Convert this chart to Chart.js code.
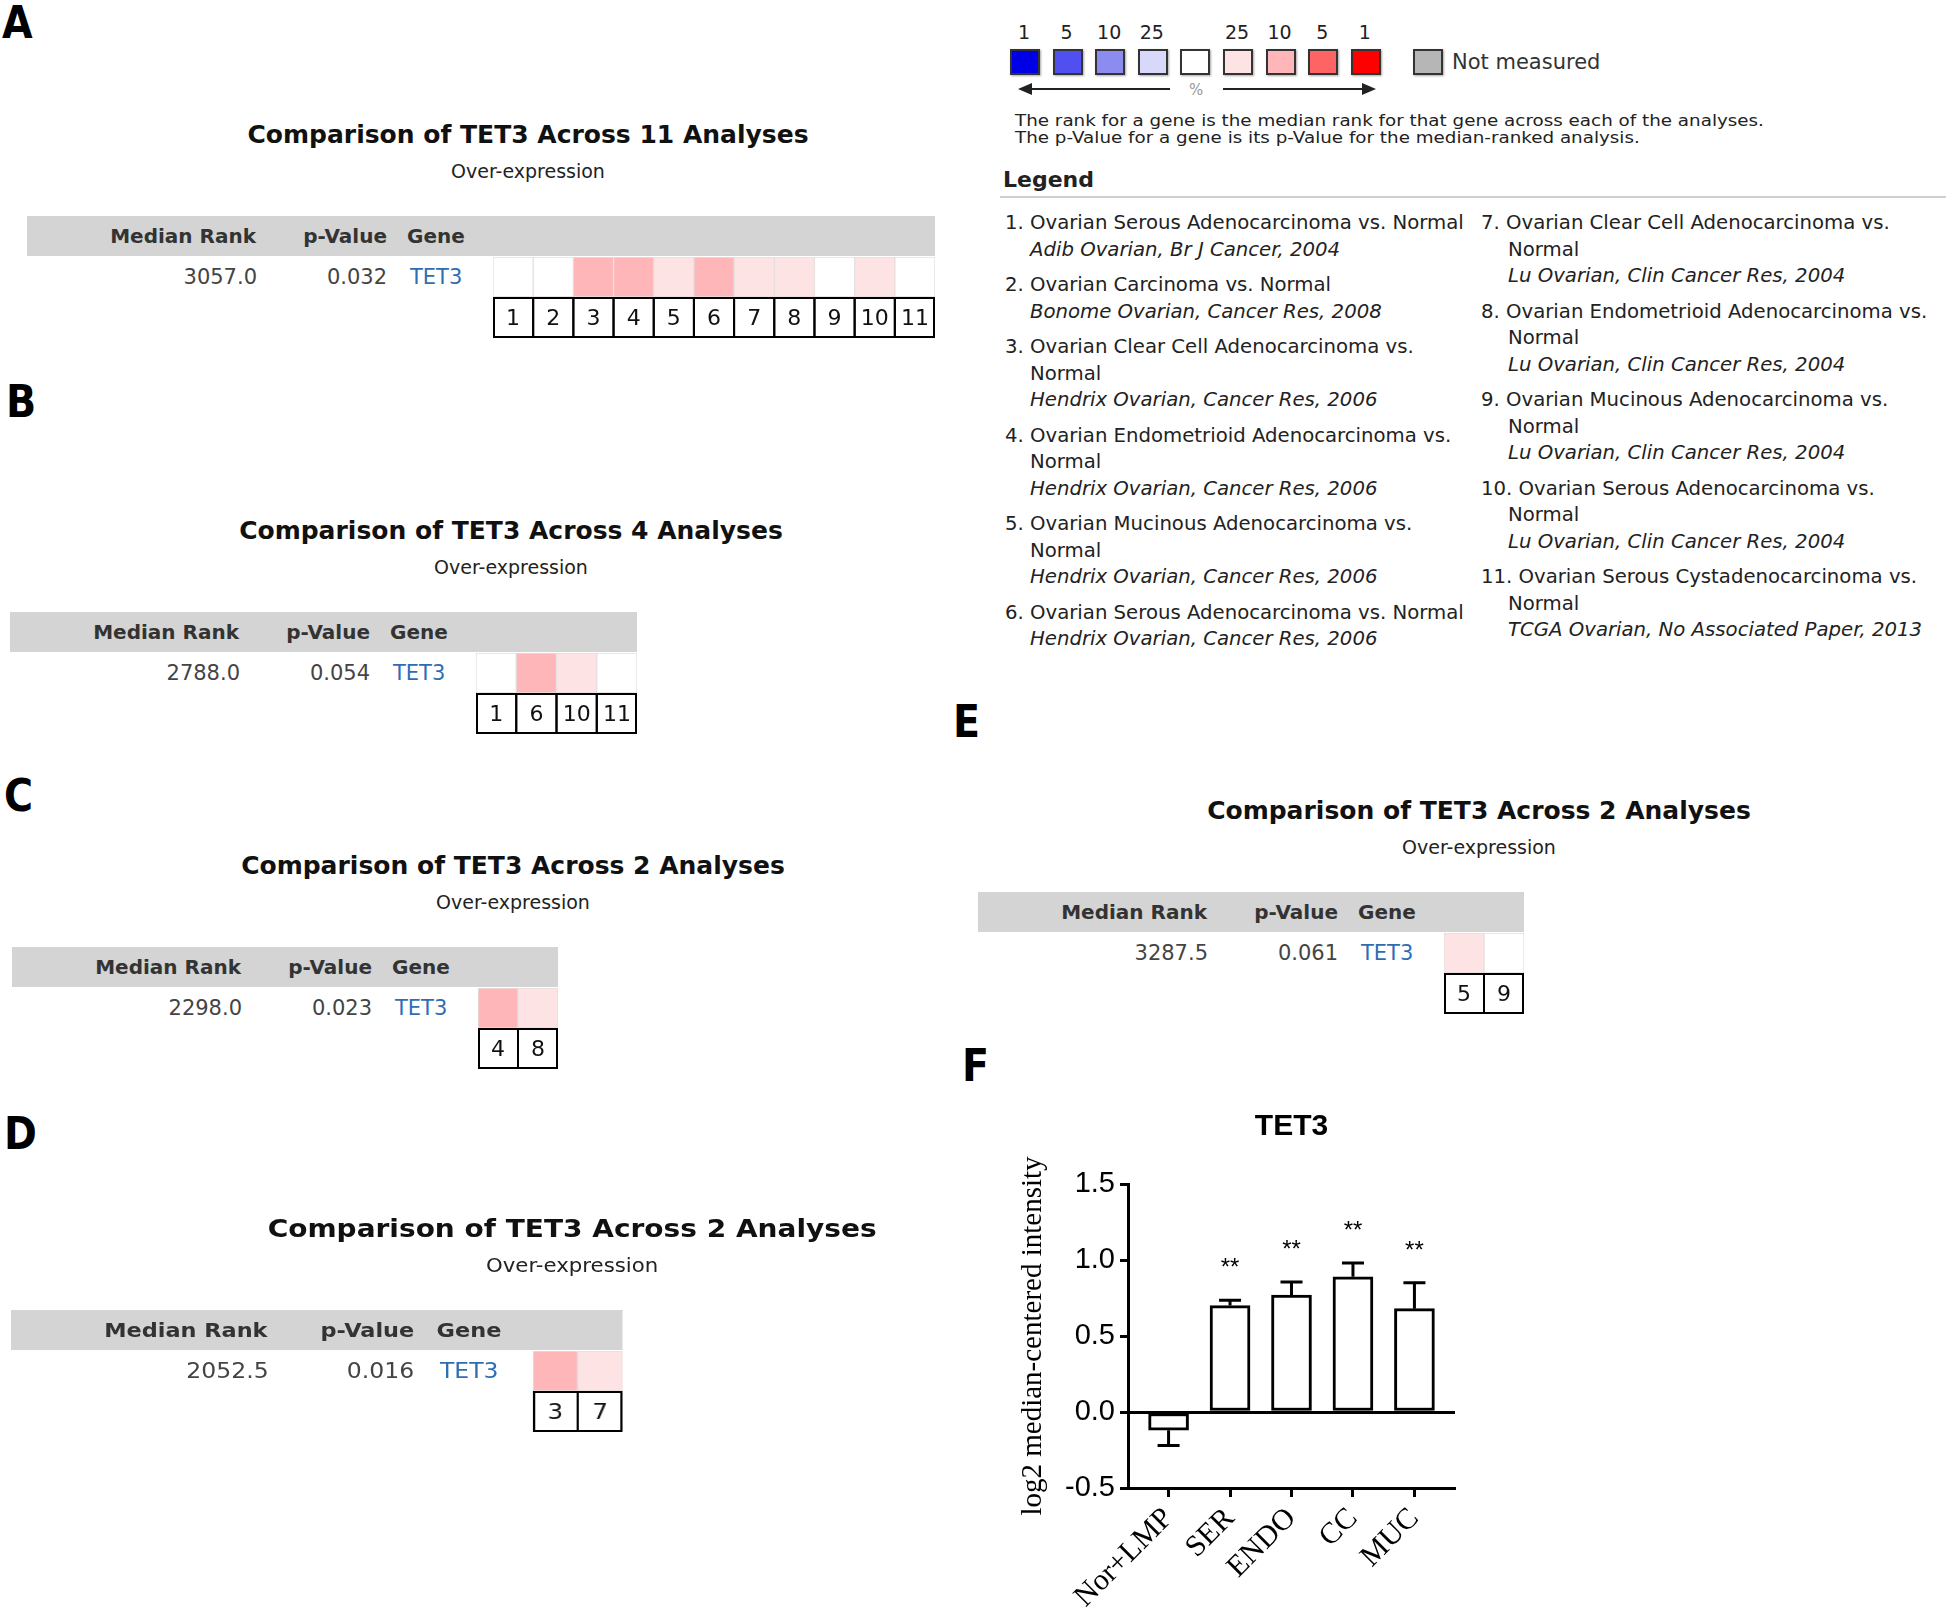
<!DOCTYPE html>
<html>
<head>
<meta charset="utf-8">
<script src="https://cdn.jsdelivr.net/npm/chart.js@4.4.1/dist/chart.umd.min.js"></script>
<style>
  html, body { margin: 0; padding: 0; background: #fff; }
  body { width: 1946px; height: 1610px; position: relative; overflow: hidden;
         font-family: "DejaVu Sans", Verdana, sans-serif; color: #222; }
  .letter { position: absolute; font: bold 45px "DejaVu Sans"; line-height: 0.9; color: #000;
            transform: scaleX(0.88); transform-origin: left top; }
  .panel { position: absolute; transform-origin: left top; }
  .ptitle { position: absolute; left: 0; width: 1002px; top: -96px; font: bold 25px "DejaVu Sans"; line-height: 30px;
            text-align: center; color: #111; white-space: nowrap; }
  .psub { position: absolute; left: 0; width: 1002px; top: -57px; font: 19px "DejaVu Sans"; line-height: 24px;
          text-align: center; color: #222; white-space: nowrap; }
  .band { position: absolute; left: 0; top: 0; height: 40px; background: #d4d4d4; }
  .hd { position: absolute; top: 0; font: bold 20px "DejaVu Sans"; line-height: 40px; color: #333; white-space: nowrap; }
  .dv { position: absolute; top: 41px; font: 21px "DejaVu Sans"; line-height: 40px; color: #444; white-space: nowrap; }
  .r { text-align: right; }
  .gene { color: #2f6db3; }
  .strip { position: absolute; left: 466px; top: 41px; }
  .keynum { position: absolute; top: 21px; width: 40px; text-align: center; font: 19px "DejaVu Sans"; color: #222; }
  .keysq { position: absolute; top: 49px; width: 26px; height: 22px; border: 2px solid #333;
           box-shadow: 1px 1px 2px rgba(0,0,0,0.35); }
  .note { position: absolute; left: 1015px; font: 15px "DejaVu Sans"; line-height: 15px; color: #222;
          transform: scaleX(1.22); transform-origin: left top; white-space: nowrap; }
  .lcol { position: absolute; top: 210px; }
  .item { line-height: 26.5px; margin-bottom: 9px; white-space: pre; font-size: 19.7px; color: #222; }
</style>
</head>
<body>
<canvas id="tetChart" width="480" height="520" style="position:absolute;left:1000px;top:1090px"></canvas>
<script>
// ---- panels A-E (Oncomine comparisons) ----
const panelLetters = ['A', 'B', 'C', 'D', 'E'];
const analysisTotals = [11, 4, 2, 2, 2];
const medianRanks = ['3057.0', '2788.0', '2298.0', '2052.5', '3287.5'];
const pValues = ['0.032', '0.054', '0.023', '0.016', '0.061'];
const geneName = 'TET3';
const analysisIds = [
  [1, 2, 3, 4, 5, 6, 7, 8, 9, 10, 11],
  [1, 6, 10, 11],
  [4, 8],
  [3, 7],
  [5, 9]
];
// top-% rank bucket for each cell, 0 = not significant
const rankPercentiles = [
  [0, 0, 10, 10, 25, 10, 25, 25, 0, 25, 0],
  [0, 10, 25, 0],
  [10, 25],
  [10, 25],
  [25, 0]
];

// ---- colour key ----
const keyLabels = ['1', '5', '10', '25', '', '25', '10', '5', '1'];
const keyColors = ['#0000e6', '#5050f0', '#8c8cf0', '#d8d8fa', '#ffffff', '#fde3e3', '#ffb6b8', '#ff6464', '#ff0000'];
const overColors = { 0: '#ffffff', 1: '#ff0000', 5: '#ff6464', 10: '#ffb6b8', 25: '#fde3e3' };

// ---- legend ----
const legendTitles = [
  'Ovarian Serous Adenocarcinoma vs. Normal',
  'Ovarian Carcinoma vs. Normal',
  'Ovarian Clear Cell Adenocarcinoma vs.\nNormal',
  'Ovarian Endometrioid Adenocarcinoma vs.\nNormal',
  'Ovarian Mucinous Adenocarcinoma vs.\nNormal',
  'Ovarian Serous Adenocarcinoma vs. Normal',
  'Ovarian Clear Cell Adenocarcinoma vs.\nNormal',
  'Ovarian Endometrioid Adenocarcinoma vs.\nNormal',
  'Ovarian Mucinous Adenocarcinoma vs.\nNormal',
  'Ovarian Serous Adenocarcinoma vs.\nNormal',
  'Ovarian Serous Cystadenocarcinoma vs.\nNormal'
];
const legendSources = [
  'Adib Ovarian, Br J Cancer, 2004',
  'Bonome Ovarian, Cancer Res, 2008',
  'Hendrix Ovarian, Cancer Res, 2006',
  'Hendrix Ovarian, Cancer Res, 2006',
  'Hendrix Ovarian, Cancer Res, 2006',
  'Hendrix Ovarian, Cancer Res, 2006',
  'Lu Ovarian, Clin Cancer Res, 2004',
  'Lu Ovarian, Clin Cancer Res, 2004',
  'Lu Ovarian, Clin Cancer Res, 2004',
  'Lu Ovarian, Clin Cancer Res, 2004',
  'TCGA Ovarian, No Associated Paper, 2013'
];

// ---- panel F bar chart ----
const groups = ['Nor+LMP', 'SER', 'ENDO', 'CC', 'MUC'];
const means = [-0.12, 0.70, 0.77, 0.89, 0.68];
const sems = [0.10, 0.035, 0.085, 0.09, 0.17];
const sigMarks = ['', '**', '**', '**', '**'];
const yTicks = [-0.5, 0.0, 0.5, 1.0, 1.5];
const chartTitle = 'TET3';

// layout of the page pieces
const panelBoxes = [
  { left: 27, top: 216, sx: 1 },
  { left: 10, top: 612, sx: 1 },
  { left: 12, top: 947, sx: 1 },
  { left: 11, top: 1310, sx: 1.12 },
  { left: 978, top: 892, sx: 1 }
];
const letterSpots = [[2, 3], [6, 382], [4, 776], [4, 1114], [953, 702], [962, 1046]];
const CELL = 40.2;

function el(tag, cls, parent, html) {
  const e = document.createElement(tag);
  if (cls) e.className = cls;
  if (html !== undefined) e.innerHTML = html;
  (parent || document.body).appendChild(e);
  return e;
}
function place(e, left, top) { e.style.left = left + 'px'; e.style.top = top + 'px'; return e; }

// number row under each heat strip, drawn from the category scale
const numberRow = {
  id: 'numberRow',
  afterDraw(chart) {
    const { ctx, chartArea, scales: { x } } = chart;
    const labels = chart.data.labels;
    const w = chartArea.width / labels.length;
    const top = chartArea.bottom + 1;
    ctx.save();
    ctx.strokeStyle = '#000';
    ctx.lineWidth = 2;
    ctx.fillStyle = '#111';
    ctx.font = '22px "DejaVu Sans"';
    ctx.textAlign = 'center';
    ctx.textBaseline = 'middle';
    labels.forEach((lab, i) => {
      const cx = x.getPixelForValue(i);
      const left = Math.max(cx - w / 2, 1);
      const right = Math.min(cx + w / 2, chartArea.right - 1);
      ctx.strokeRect(left, top, right - left, 39);
      ctx.fillText(lab, cx, top + 21);
    });
    ctx.restore();
  }
};

function drawStrip(canvas, ids, pcts) {
  new Chart(canvas, {
    type: 'bar',
    data: {
      labels: ids.map(String),
      datasets: [{
        data: ids.map(() => 1),
        backgroundColor: pcts.map(p => overColors[p]),
        borderColor: '#e6dede',
        borderWidth: 1,
        borderSkipped: false,
        barPercentage: 1,
        categoryPercentage: 1
      }]
    },
    options: {
      responsive: false,
      animation: false,
      events: [],
      layout: { padding: { bottom: 41 } },
      plugins: { legend: { display: false }, tooltip: { enabled: false } },
      scales: {
        x: { display: false },
        y: { display: false, min: 0, max: 1 }
      }
    },
    plugins: [numberRow]
  });
}

panelLetters.forEach((letter, p) => {
  const box = panelBoxes[p];
  const n = analysisTotals[p];
  const panel = place(el('div', 'panel'), box.left, box.top);
  panel.style.transform = 'scaleX(' + box.sx + ')';
  el('div', 'ptitle', panel, 'Comparison of ' + geneName + ' Across ' + n + ' Analyses');
  el('div', 'psub', panel, 'Over-expression');
  const band = el('div', 'band', panel);
  band.style.width = (466 + n * CELL) + 'px';
  const h1 = el('div', 'hd r', panel, 'Median Rank'); h1.style.left = '0px'; h1.style.width = '229px';
  const h2 = el('div', 'hd r', panel, 'p-Value'); h2.style.left = '0px'; h2.style.width = '360px';
  const h3 = el('div', 'hd', panel, 'Gene'); h3.style.left = '380px';
  const d1 = el('div', 'dv r', panel, medianRanks[p]); d1.style.left = '0px'; d1.style.width = '230px';
  const d2 = el('div', 'dv r', panel, pValues[p]); d2.style.left = '0px'; d2.style.width = '360px';
  const d3 = el('div', 'dv gene', panel, geneName); d3.style.left = '383px';
  const cv = el('canvas', 'strip', panel);
  cv.width = Math.round(n * CELL);
  cv.height = 81;
  drawStrip(cv, analysisIds[p], rankPercentiles[p]);
});

['A', 'B', 'C', 'D', 'E', 'F'].forEach((l, i) => {
  place(el('div', 'letter', null, l), letterSpots[i][0], letterSpots[i][1]);
});

// colour key
keyColors.forEach((c, i) => {
  const left = 1010 + i * 42.6;
  const sq = place(el('div', 'keysq'), left, 49);
  sq.style.background = c;
  if (keyLabels[i]) place(el('div', 'keynum', null, keyLabels[i]), left - 6, 21);
});
const grey = place(el('div', 'keysq'), 1413, 49);
grey.style.background = '#b6b6b6';
const nm = place(el('div', null, null, 'Not measured'), 1452, 48);
nm.style.cssText += 'position:absolute;font:21px "DejaVu Sans";color:#333;white-space:nowrap;line-height:28px;';
// arrows
const la = place(el('div'), 1030, 88); la.style.cssText += 'position:absolute;width:140px;height:2px;background:#222;';
const lh = place(el('div'), 1018, 83); lh.style.cssText += 'position:absolute;width:0;height:0;border-top:6px solid transparent;border-bottom:6px solid transparent;border-right:14px solid #222;';
const ra = place(el('div'), 1223, 88); ra.style.cssText += 'position:absolute;width:140px;height:2px;background:#222;';
const rh = place(el('div'), 1362, 83); rh.style.cssText += 'position:absolute;width:0;height:0;border-top:6px solid transparent;border-bottom:6px solid transparent;border-left:14px solid #222;';
const pct = place(el('div', null, null, '%'), 1189, 81); pct.style.cssText += 'position:absolute;font:15px "DejaVu Sans";color:#999;';

place(el('div', 'note', null, 'The rank for a gene is the median rank for that gene across each of the analyses.'), 1015, 114);
place(el('div', 'note', null, 'The p-Value for a gene is its p-Value for the median-ranked analysis.'), 1015, 131);

// legend
const lg = place(el('div', null, null, 'Legend'), 1003, 166);
lg.style.cssText += 'position:absolute;font:bold 22px "DejaVu Sans";color:#222;line-height:28px;';
const rule = place(el('div'), 1000, 196);
rule.style.cssText += 'position:absolute;width:946px;height:2px;background:#cfcfcf;';

const col1 = place(el('div', 'lcol'), 1005, 210);
const col2 = place(el('div', 'lcol'), 1481, 210);
legendTitles.forEach((t, i) => {
  const col = i < 6 ? col1 : col2;
  const hang = i < 6 ? 25 : 27;
  const it = el('div', 'item', col);
  it.style.paddingLeft = hang + 'px';
  it.style.textIndent = (-hang) + 'px';
  it.textContent = (i + 1) + '. ' + t + '\n';
  const src = el('i', null, it);
  src.textContent = legendSources[i];
});

// ---- panel F ----
const errorBars = {
  id: 'errorBars',
  afterDatasetsDraw(chart) {
    const { ctx, chartArea, scales: { x, y } } = chart;
    ctx.save();
    ctx.fillStyle = '#000';
    ctx.font = 'bold 30px "Liberation Sans"';
    ctx.textAlign = 'center';
    ctx.textBaseline = 'middle';
    ctx.fillText(chartTitle, (chartArea.left + chartArea.right) / 2, 37);

    ctx.strokeStyle = '#000';
    ctx.lineWidth = 3;
    ctx.font = '24px "Liberation Sans"';
    ctx.textBaseline = 'alphabetic';
    means.forEach((m, i) => {
      const px = x.getPixelForValue(i);
      const dir = m < 0 ? -1 : 1;
      const y0 = y.getPixelForValue(m);
      const y1 = y.getPixelForValue(m + dir * sems[i]);
      ctx.beginPath();
      ctx.moveTo(px, y0);
      ctx.lineTo(px, y1);
      ctx.moveTo(px - 11, y1);
      ctx.lineTo(px + 11, y1);
      ctx.stroke();
      if (sigMarks[i]) ctx.fillText(sigMarks[i], px, y1 - 25);
    });
    ctx.restore();
  }
};

new Chart(document.getElementById('tetChart'), {
  type: 'bar',
  data: {
    datasets: [{
      data: means.map((v, i) => ({ x: i, y: v })),
      backgroundColor: '#ffffff',
      borderColor: '#000000',
      borderWidth: 3,
      borderSkipped: false,
      barThickness: 40
    }]
  },
  options: {
    responsive: false,
    animation: false,
    events: [],
    layout: { padding: { left: 0, right: 25, top: 94, bottom: 0 } },
    plugins: {
      legend: { display: false },
      tooltip: { enabled: false }
    },
    scales: {
      x: {
        type: 'linear',
        min: -0.66,
        max: 4.66,
        offset: false,
        grid: { offset: false, drawOnChartArea: false, drawTicks: true, tickLength: 9, tickWidth: 3, tickColor: '#000' },
        border: { display: true, color: '#000', width: 3 },
        ticks: {
          stepSize: 1,
          includeBounds: false,
          autoSkip: false,
          minRotation: 45,
          maxRotation: 45,
          padding: 4,
          color: '#000',
          font: { family: 'Liberation Serif', size: 30 },
          callback: v => (Number.isInteger(v) && groups[v]) ? groups[v] : ''
        },
        afterFit: s => { s.height = 122; }
      },
      y: {
        min: -0.5,
        max: 1.5,
        afterBuildTicks: s => { s.ticks = yTicks.map(v => ({ value: v })); },
        grid: {
          color: c => (c.tick && c.tick.value === 0) ? '#000' : 'rgba(0,0,0,0)',
          lineWidth: 3,
          drawTicks: true,
          tickLength: 8,
          tickWidth: 3,
          tickColor: '#000'
        },
        border: { display: true, color: '#000', width: 3 },
        ticks: {
          color: '#000',
          padding: 5,
          font: { family: 'Liberation Sans', size: 29 },
          callback: v => v.toFixed(1)
        },
        title: {
          display: true,
          text: 'log2 median-centered intensity',
          color: '#000',
          font: { family: 'Liberation Serif', size: 29 },
          padding: { top: 16, bottom: 0 }
        },
        afterFit: s => { s.width = 128; }
      }
    }
  },
  plugins: [errorBars]
});
</script>
</body>
</html>
